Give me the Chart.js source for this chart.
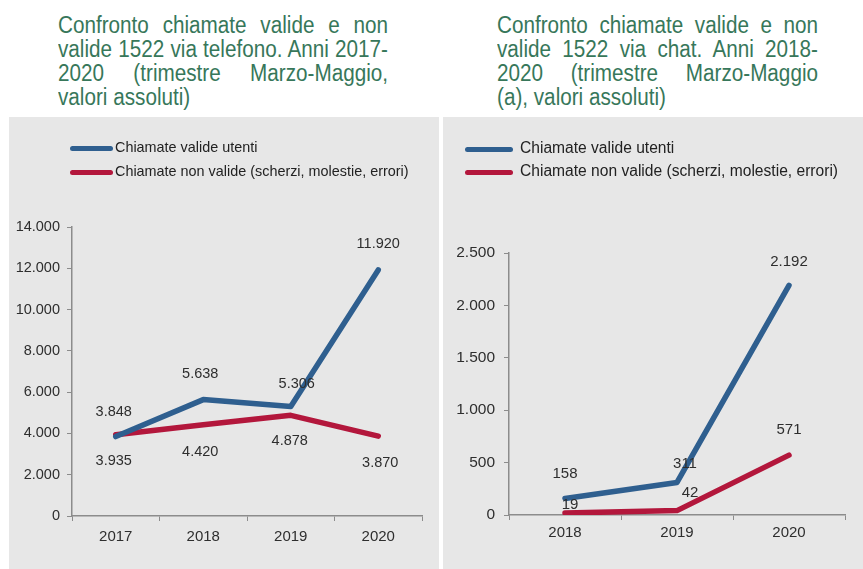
<!DOCTYPE html>
<html>
<head>
<meta charset="utf-8">
<script src="https://cdn.jsdelivr.net/npm/chart.js@4.4.0/dist/chart.umd.min.js"></script>
<style>
  html, body { margin: 0; padding: 0; background: #ffffff; }
  body { width: 863px; height: 569px; position: relative; overflow: hidden; font-family: "Liberation Sans", Arial, sans-serif; }
  .title { position: absolute; color: #37775a; font-size: 20.7px; line-height: 24px; }
  .title div { white-space: nowrap; transform: scaleY(1.12); transform-origin: 0 19.3px; }
  .title .j { text-align: justify; text-align-last: justify; }
  .panel { position: absolute; top: 117px; height: 452px; background: #e7e7e7; }
  .panel canvas { position: absolute; left: 0; top: 0; }
  .leg { position: absolute; color: #222; white-space: nowrap; }
  .leg .sw { position: absolute; height: 5px; border-radius: 3px; }
</style>
</head>
<body>
<div class="title" style="left:58px; top:14px; width:330px;">
  <div class="j">Confronto chiamate valide e non</div>
  <div class="j">valide 1522 via telefono. Anni 2017-</div>
  <div class="j">2020 (trimestre Marzo-Maggio,</div>
  <div>valori assoluti)</div>
</div>
<div class="title" style="left:497px; top:14px; width:321px;">
  <div class="j">Confronto chiamate valide e non</div>
  <div class="j">valide 1522 via chat. Anni 2018-</div>
  <div class="j">2020 (trimestre Marzo-Maggio</div>
  <div>(a), valori assoluti)</div>
</div>

<div class="panel" style="left:9px; width:430px;">
  <canvas id="c1" width="430" height="452"></canvas>
</div>
<div class="panel" style="left:443px; width:420px;">
  <canvas id="c2" width="420" height="452"></canvas>
</div>

<div id="leg1"></div>
<div id="leg2"></div>

<script>
// ---- Data ----
const phoneYears = ["2017", "2018", "2019", "2020"];
const phoneValid = [3848, 5638, 5306, 11920];
const phoneInvalid = [3935, 4420, 4878, 3870];

const chatYears = ["2018", "2019", "2020"];
const chatValid = [158, 311, 2192];
const chatInvalid = [19, 42, 571];

const seriesNames = ["Chiamate valide utenti", "Chiamate non valide (scherzi, molestie, errori)"];

const phoneTicks = { min: 0, max: 14000, step: 2000 };
const chatTicks = { min: 0, max: 2500, step: 500 };

// ---- Styles ----
const BLUE = "#2f5f8f";
const RED = "#b3173c";
const AXIS = "#8c8c8c";
const TXT = "#2e2e2e";
const FONT = "'Liberation Sans', Arial, sans-serif";

function fmt(v) {
  return String(Math.round(v)).replace(/\B(?=(\d{3})+(?!\d))/g, ".");
}

// Legends as HTML
function makeLegend(id, x, y1, y2, lineLen, textX, fontSize) {
  const el = document.getElementById(id);
  const colors = [BLUE, RED];
  [y1, y2].forEach((y, i) => {
    const line = document.createElement("div");
    line.style.position = "absolute";
    line.style.left = x + "px";
    line.style.top = (y - 2.5) + "px";
    line.style.width = lineLen + "px";
    line.style.height = "5px";
    line.style.borderRadius = "3px";
    line.style.background = colors[i];
    el.appendChild(line);
    const t = document.createElement("div");
    t.className = "leg";
    t.style.left = textX + "px";
    t.style.top = (y - fontSize * 0.62) + "px";
    t.style.fontSize = fontSize + "px";
    t.style.lineHeight = "1.2";
    t.textContent = seriesNames[i];
    el.appendChild(t);
  });
}
makeLegend("leg1", 70, 148, 172, 43, 115, 14.4);
makeLegend("leg2", 465, 149, 172, 48, 520, 15.6);

// Data label plugin
const valueLabels = {
  id: "valueLabels",
  afterDatasetsDraw(chart, args, opts) {
    const ctx = chart.ctx;
    ctx.save();
    ctx.font = opts.size + "px " + FONT;
    ctx.fillStyle = TXT;
    ctx.textAlign = "center";
    ctx.textBaseline = "middle";
    chart.data.datasets.forEach((ds, di) => {
      const meta = chart.getDatasetMeta(di);
      const dy = opts.dy[di], dx = opts.dx[di];
      meta.data.forEach((pt, i) => {
        ctx.fillText(fmt(ds.data[i]), pt.x + dx[i], pt.y + dy[i]);
      });
    });
    ctx.restore();
  }
};

function makeChart(id, labels, valid, invalid, t, cfg) {
  return new Chart(document.getElementById(id), {
    type: "line",
    data: {
      labels: labels,
      datasets: [
        { label: seriesNames[0], data: valid, borderColor: BLUE, backgroundColor: BLUE,
          borderWidth: 5.5, pointRadius: 0, tension: 0, borderJoinStyle: "round", borderCapStyle: "round" },
        { label: seriesNames[1], data: invalid, borderColor: RED, backgroundColor: RED,
          borderWidth: 5.5, pointRadius: 0, tension: 0, borderJoinStyle: "round", borderCapStyle: "round" }
      ]
    },
    options: {
      responsive: false,
      animation: false,
      devicePixelRatio: 1,
      layout: { padding: { left: 0, top: cfg.top, right: cfg.right, bottom: 0 } },
      plugins: {
        legend: { display: false },
        tooltip: { enabled: false },
        valueLabels: cfg.labels
      },
      scales: {
        x: {
          offset: true,
          grid: { display: true, offset: true, drawOnChartArea: false, drawTicks: true, tickLength: 5, color: AXIS, lineWidth: 1 },
          border: { display: true, color: AXIS, width: 1.5 },
          ticks: { color: TXT, font: { family: FONT, size: 15 }, padding: cfg.xPad, maxRotation: 0 },
          afterFit: (s) => { s.height = cfg.xH; }
        },
        y: {
          min: t.min, max: t.max,
          grid: { display: true, drawOnChartArea: false, drawTicks: true, tickLength: 5, color: AXIS, lineWidth: 1 },
          border: { display: true, color: AXIS, width: 1.5 },
          ticks: { stepSize: t.step, color: TXT, font: { family: FONT, size: cfg.ySize }, padding: cfg.yPad,
                   callback: (v) => fmt(v) },
          afterFit: (s) => { s.width = cfg.yW; }
        }
      }
    },
    plugins: [valueLabels]
  });
}

makeChart("c1", phoneYears, phoneValid, phoneInvalid, phoneTicks, {
  top: 110, right: 17, xH: 53, yW: 63, xPad: 7, yPad: 7, ySize: 14.5,
  labels: { size: 14.5,
    dy: [[-25, -26, -22, -26], [26, 27, 26, 27]],
    dx: [[-2, -3, 6, 0], [-2, -3, -1, 2]] }
});

makeChart("c2", chatYears, chatValid, chatInvalid, chatTicks, {
  top: 136, right: 18, xH: 54, yW: 66, xPad: 4, yPad: 9, ySize: 15.5,
  labels: { size: 15,
    dy: [[-25, -19, -23], [-8, -18, -25]],
    dx: [[0, 8, 0], [5, 13, 0]] }
});
</script>
</body>
</html>
